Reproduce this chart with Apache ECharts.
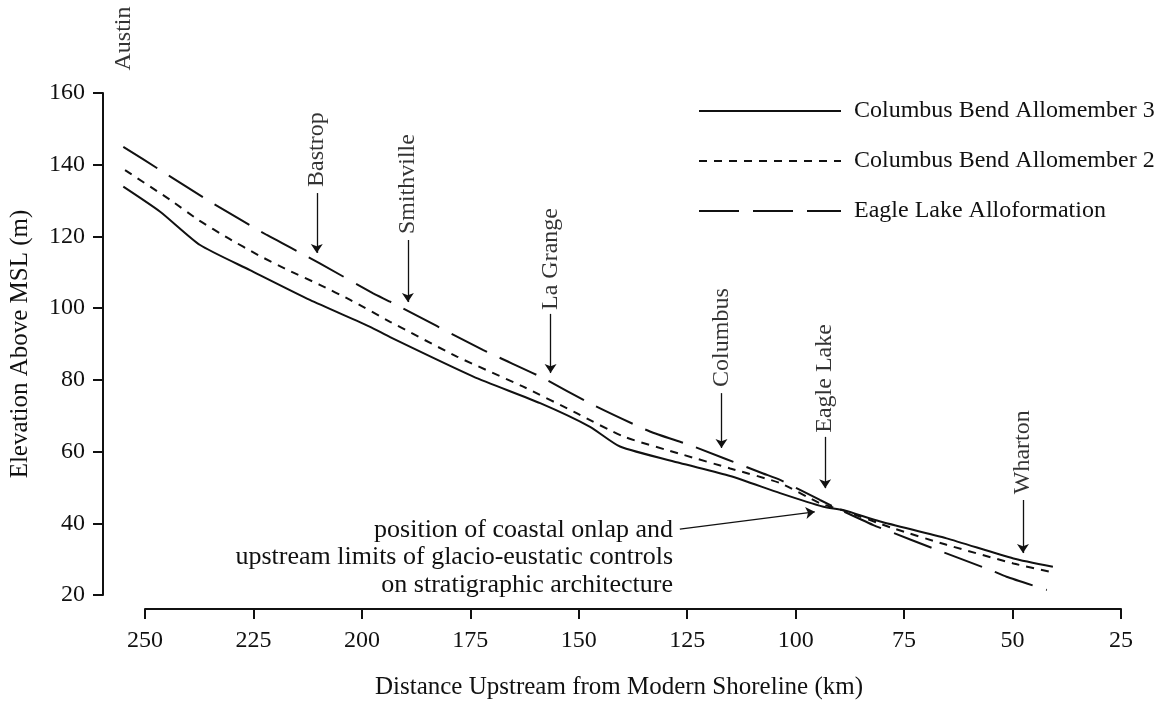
<!DOCTYPE html>
<html>
<head>
<meta charset="utf-8">
<script src="https://cdn.jsdelivr.net/npm/echarts@6/dist/echarts.min.js"></script>
<style>
  html, body { margin: 0; padding: 0; background: #fff; }
  #chart { width: 1169px; height: 705px; }
</style>
</head>
<body>
<div id="chart"></div>
<script>
// distance upstream (km), elevation above MSL (m)
const cb3 = [[255.0,133.9],[246.5,126.9],[237.3,117.6],[225.8,110.6],[212.0,102.3],[198.1,94.8],[193.5,91.9],[174.3,80.9],[158.9,73.5],[147.4,66.9],[140.5,61.4],[126.7,56.8],[115.1,53.2],[103.6,48.4],[93.6,44.6],[89.1,43.7],[80.5,40.5],[65.2,35.8],[49.8,30.2],[40.7,27.9]];
const cb2 = [[254.6,138.5],[244.2,130.2],[237.7,124.6],[230.8,119.5],[223.9,114.8],[217.0,110.6],[209.7,106.5],[202.7,102.3],[193.5,96.2],[178.1,86.5],[162.8,78.1],[150.5,70.7],[139.7,64.2],[125.9,59.1],[115.1,55.3],[103.6,51.2],[94.4,45.6],[89.1,43.6],[77.5,38.6],[65.2,34.0],[49.8,28.8],[41.4,26.5]];
const eagleLake = [[255.0,145.0],[246.5,138.5],[235.0,129.7],[221.9,120.4],[209.7,112.5],[197.4,104.1],[193.5,101.8],[172.0,88.3],[158.9,80.9],[146.7,73.0],[133.6,65.6],[124.4,61.8],[107.5,53.9],[103.6,52.1],[94.4,46.5],[89.1,43.4],[82.1,39.5],[78.3,37.7],[68.3,33.0],[55.2,27.0],[51.4,25.1],[42.1,21.4]];

const seriesNames = ["Columbus Bend Allomember 3", "Columbus Bend Allomember 2", "Eagle Lake Alloformation"];

// towns along the profile
const placeNames = ["Austin", "Bastrop", "Smithville", "La Grange", "Columbus", "Eagle Lake", "Wharton"];
const placeKm = [254.8, 210.4, 189.4, 156.5, 117.1, 93.2, 47.6];
const placeLabelElev = [175.2, 144.2, 134.6, 113.7, 91.8, 80.4, 59.8];
const arrowFrom = [164.2, 132.1, 119.0, 98.4, 76.3, 64.1, 46.5];
const arrowTo = [147.7, 115.4, 101.7, 81.9, 61.0, 49.8, 31.7];

// onlap note arrow
const onlapArrow = [[126.7, 38.4], [95.6, 43.2]];
const onlapText = ["position of coastal onlap and", "upstream limits of glacio-eustatic controls", "on stratigraphic architecture"];

const yTicks = [20, 160, 20]; // min, max, interval
const xTicks = [25, 250, 25];

const ink = "#111";
const font = "Liberation Serif";

let myChart = echarts.init(document.getElementById("chart"));

let markData = placeKm.map(function(km, i) {
  return [{ coord: [km, arrowFrom[i]] }, { coord: [km, arrowTo[i]] }];
});
markData.push([{ coord: onlapArrow[0] }, { coord: onlapArrow[1] }]);

myChart.setOption({
  animation: false,
  legend: {
    orient: "vertical",
    left: 698,
    top: 99,
    padding: 0,
    itemWidth: 142,
    itemHeight: 14,
    itemGap: 26,
    data: seriesNames,
    itemStyle: { color: "rgba(0,0,0,0)", borderWidth: 0 },
    textStyle: { fontFamily: font, fontSize: 24, color: ink, lineHeight: 24, padding: [0, 0, 0, 8] }
  },
  grid: [
    { left: 103, top: 93, width: 1018, height: 502 },
    { left: 145, top: 93, width: 976, height: 519 }
  ],
  xAxis: [
    {
      // hidden axis for the data grid, same scale as the drawn one
      gridIndex: 0,
      type: "value",
      inverse: true,
      min: 25,
      max: 250 + (42 / 976) * 225,
      show: false
    },
    {
      gridIndex: 1,
      type: "value",
      inverse: true,
      min: xTicks[0],
      max: xTicks[1],
      interval: xTicks[2],
      splitLine: { show: false },
      axisLine: { lineStyle: { color: ink, width: 2 } },
      axisTick: { length: 10, lineStyle: { color: ink, width: 2 } },
      axisLabel: { color: ink, fontFamily: font, fontSize: 24, margin: 20 },
      name: "Distance Upstream from Modern Shoreline (km)",
      nameLocation: "middle",
      nameGap: 66,
      nameTextStyle: { color: ink, fontFamily: font, fontSize: 25, padding: [0, 28, 0, 0] }
    }
  ],
  yAxis: [
    {
      gridIndex: 0,
      type: "value",
      min: yTicks[0],
      max: yTicks[1],
      interval: yTicks[2],
      splitLine: { show: false },
      axisLine: { show: true, lineStyle: { color: ink, width: 2 } },
      axisTick: { show: true, length: 10, lineStyle: { color: ink, width: 2 } },
      axisLabel: { color: ink, fontFamily: font, fontSize: 24, margin: 18 },
      name: "Elevation Above MSL (m)",
      nameLocation: "middle",
      nameGap: 70,
      nameTextStyle: { color: ink, fontFamily: font, fontSize: 25 }
    },
    { gridIndex: 1, type: "value", min: 0, max: 1, show: false }
  ],
  series: [
    {
      name: seriesNames[0],
      type: "line",
      xAxisIndex: 0,
      yAxisIndex: 0,
      symbol: "none",
      smooth: 0.2,
      lineStyle: { color: ink, width: 2, type: "solid" },
      itemStyle: { color: ink },
      data: cb3
    },
    {
      name: seriesNames[1],
      type: "line",
      xAxisIndex: 0,
      yAxisIndex: 0,
      symbol: "none",
      smooth: 0.2,
      lineStyle: { color: ink, width: 2, type: [8, 7] },
      itemStyle: { color: ink },
      data: cb2
    },
    {
      name: seriesNames[2],
      type: "line",
      xAxisIndex: 0,
      yAxisIndex: 0,
      symbol: "none",
      smooth: 0.2,
      lineStyle: { color: ink, width: 2, type: [40, 14] },
      itemStyle: { color: ink },
      data: eagleLake
    },
    {
      name: "places",
      type: "scatter",
      xAxisIndex: 0,
      yAxisIndex: 0,
      clip: false,
      silent: true,
      symbolSize: 1,
      itemStyle: { color: "rgba(0,0,0,0)" },
      label: {
        show: true,
        position: "inside",
        rotate: 90,
        color: "#000",
        textBorderWidth: 0,
        fontFamily: font,
        fontSize: 24,
        formatter: function(p) { return p.data[2]; }
      },
      data: placeKm.map(function(km, i) { return [km, placeLabelElev[i], placeNames[i]]; }),
      markLine: {
        silent: true,
        symbol: ["none", "arrow"],
        symbolSize: 9,
        label: { show: false },
        lineStyle: { color: ink, width: 1.3, type: "solid" },
        data: markData
      }
    }
  ],
  graphic: onlapText.map(function(t, i) {
    return {
      type: "text",
      style: {
        text: t,
        x: 673,
        y: 530 + i * 27.5,
        align: "right",
        verticalAlign: "middle",
        fontFamily: font,
        fontSize: 26,
        fill: ink
      }
    };
  })
});

window.addEventListener("resize", function() {
  myChart.resize();
});
</script>
</body>
</html>
